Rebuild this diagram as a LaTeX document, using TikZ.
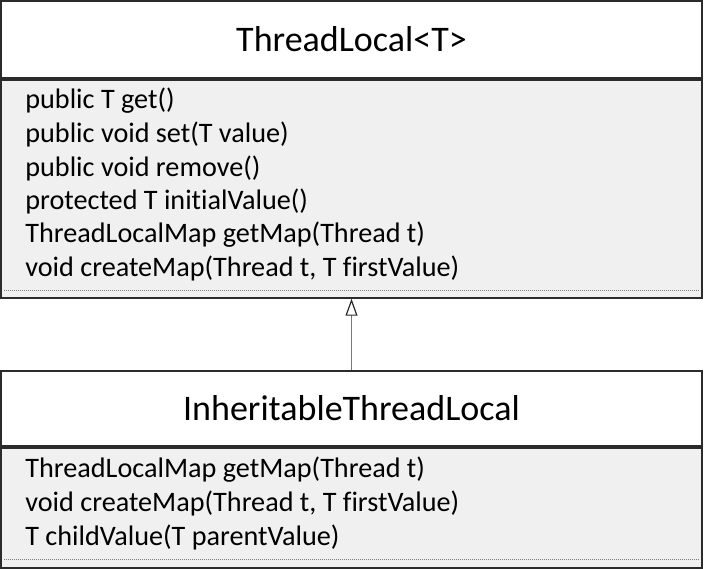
\documentclass[tikz,border=0pt]{standalone}
\usepackage{fontspec}
\setmainfont{Carlito}[Ligatures=NoCommon]
\usetikzlibrary{positioning,arrows.meta}
\definecolor{bodygray}{HTML}{F0F0F0}
\definecolor{framegray}{HTML}{2B2B2B}
\definecolor{linkgray}{HTML}{7A7A7A}
\tikzset{every picture/.style={line width=0.75pt}}
\tikzset{
  classhead/.style={draw=framegray,line width=1.8pt,fill=white,minimum width=701pt,inner sep=0pt,font=\fontsize{36}{36}\selectfont},
  classbody/.style={draw=framegray,line width=1.8pt,fill=bodygray,minimum width=701pt,inner sep=0pt},
  method/.style={anchor=west,inner sep=0pt,font=\fontsize{28.2}{28.2}\selectfont},
  sepline/.style={draw=linkgray,line width=1.4pt,dash pattern=on 1pt off 1pt},
  inherit/.style={draw=linkgray,line width=1.9pt,-{Triangle[open,length=17pt,width=12pt,line width=1.2pt,color=framegray]}}
}

\begin{document}
\begin{tikzpicture}[x=1pt,y=-1pt]
  \useasboundingbox (0,0) rectangle (704,568);
  % ThreadLocal<T>
  \node[classhead,minimum height=77pt] (tlhead) at (351.5,39.5) {ThreadLocal<T>};
  \node[classbody,minimum height=218pt,below=0pt of tlhead] (tlbody) {};
  \node[method] (tlget) at (25,101) {public T get()};
  \node[method] (tlset) at (25,134) {public void set(T value)};
  \node[method] (tlremove) at (25,168) {public void remove()};
  \node[method] (tlinit) at (25,201) {protected T initialValue()};
  \node[method] (tlgetmap) at (25,235) {ThreadLocalMap getMap(Thread t)};
  \node[method] (tlcreate) at (25,268) {void createMap(Thread t, T firstValue)};
  \draw[sepline] ([xshift=4pt,yshift=8pt]tlbody.south west) -- ([xshift=-4pt,yshift=8pt]tlbody.south east); %点線
  % InheritableThreadLocal
  \node[classhead,minimum height=75pt] (ithead) at (351.5,408.5) {InheritableThreadLocal};
  \node[classbody,minimum height=120pt,below=0pt of ithead] (itbody) {};
  \node[method] (itgetmap) at (25,470) {ThreadLocalMap getMap(Thread t)};
  \node[method] (itcreate) at (25,503) {void createMap(Thread t, T firstValue)};
  \node[method] (itchild) at (25,537) {T childValue(T parentValue)};
  \draw[sepline] ([xshift=4pt,yshift=9pt]itbody.south west) -- ([xshift=-4pt,yshift=9pt]itbody.south east); %点線
  % 継承
  \draw[inherit] (ithead.north) -- (tlbody.south);
\end{tikzpicture}
\end{document}
